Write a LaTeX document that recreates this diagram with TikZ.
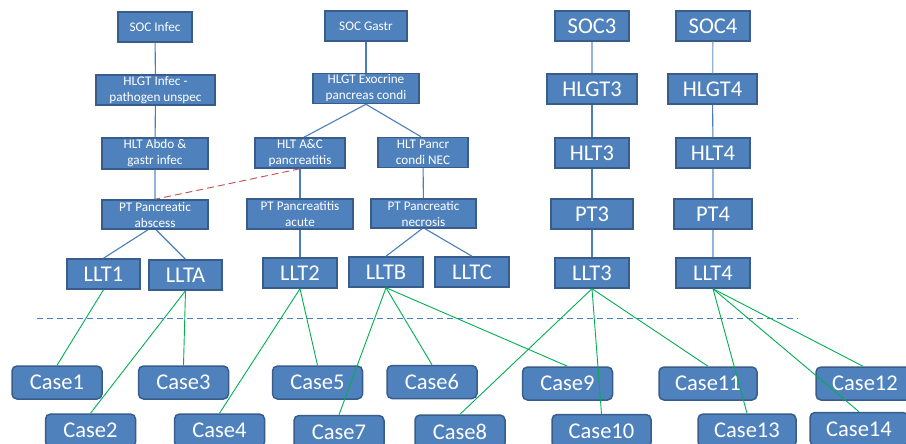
\documentclass[tikz,border=0pt]{standalone}
\usepackage{fontspec}
\setmainfont{Carlito}
\definecolor{boxfill}{HTML}{4F81BD}
\definecolor{boxedge}{HTML}{385D8A}
\definecolor{treeblue}{HTML}{4A7EBB}
\definecolor{lightblue}{HTML}{95B3D7}
\definecolor{casegreen}{HTML}{00B050}
\definecolor{dashred}{HTML}{C0504D}
\tikzset{
  box/.style={draw=boxedge, fill=boxfill, line width=1.5pt, text=white, inner sep=0pt, align=center,
    font=\fontsize{13.2}{16}\selectfont},
  bigbox/.style={box, font=\fontsize{22.5}{27}\selectfont, minimum width=74, minimum height=30},
  casebox/.style={bigbox, rounded corners=5pt, minimum width=90, minimum height=33},
  tree/.style={draw=treeblue, line width=1.1pt},
  treelight/.style={draw=lightblue, line width=1.3pt},
  link/.style={draw=casegreen, line width=0.9pt},
  sep/.style={draw=treeblue, line width=0.9pt, dash pattern=on 6pt off 4pt},
  reddash/.style={draw=dashred, line width=0.9pt, dash pattern=on 7pt off 4pt}
}
\begin{document}
\begin{tikzpicture}[x=1pt,y=-1pt]
\clip (0,0) rectangle (906,444);
\fill[white] (0,0) rectangle (906,444);
% SOC row
\node[box, minimum width=74, minimum height=30] (socinf) at (155,27) {SOC Infec};
\node[box, minimum width=82, minimum height=30] (socgas) at (366,26) {SOC Gastr};
\node[bigbox] (soc3) at (592,26) {SOC3};
\node[bigbox] (soc4) at (713,26) {SOC4};
% HLGT row
\node[box, minimum width=119, minimum height=30] (hlgtinf) at (155.5,90) {HLGT Infec -\\pathogen unspec};
\node[box, minimum width=106, minimum height=30] (hlgtexo) at (366,88.5) {HLGT Exocrine\\pancreas condi};
\node[bigbox, minimum width=90] (hlgt3) at (592,89) {HLGT3};
\node[bigbox, minimum width=89] (hlgt4) at (712.5,89) {HLGT4};
% HLT row
\node[box, minimum width=106, minimum height=31] (hltabdo) at (155,153.5) {HLT Abdo \&\\gastr infec};
\node[box, minimum width=90, minimum height=30] (hltac) at (300,153) {HLT A\&C\\pancreatitis};
\node[box, minimum width=90, minimum height=30] (hltpan) at (423,152.5) {HLT Pancr\\condi NEC};
\node[bigbox] (hlt3) at (592,153) {HLT3};
\node[bigbox] (hlt4) at (713,153) {HLT4};
% PT row
\node[box, minimum width=106, minimum height=29] (ptabs) at (155,214.5) {PT Pancreatic\\abscess};
\node[box, minimum width=106, minimum height=30] (ptacu) at (300,214) {PT Pancreatitis\\acute};
\node[box, minimum width=105, minimum height=29] (ptnec) at (423.5,213.5) {PT Pancreatic\\necrosis};
\node[bigbox, minimum width=82] (pt3) at (592,214) {PT3};
\node[bigbox, minimum width=78] (pt4) at (713,214) {PT4};
% LLT row
\node[bigbox, minimum width=73] (llt1) at (103.5,274) {LLT1};
\node[bigbox, minimum width=73] (llta) at (185.5,275) {LLTA};
\node[bigbox] (llt2) at (300,273) {LLT2};
\node[bigbox] (lltb) at (386,272) {LLTB};
\node[bigbox] (lltc) at (472,272) {LLTC};
\node[bigbox] (llt3) at (592,273) {LLT3};
\node[bigbox] (llt4) at (713,273) {LLT4};
% Tree connectors
\draw[tree] (socinf) -- (hlgtinf);
\draw[tree] (hlgtinf) -- (hltabdo);
\draw[treelight] (hltabdo) -- (ptabs);
\draw[tree] (socgas) -- (hlgtexo);
\draw[tree] (hlgtexo.south) -- ([xshift=4]hltac.north);
\draw[tree] (hlgtexo.south) -- ([xshift=-2]hltpan.north);
\draw[tree] (hltac) -- (ptacu);
\draw[tree] (hltpan) -- (ptnec);
\draw[treelight] (soc3) -- (hlgt3);
\draw[tree] (hlgt3) -- (hlt3);
\draw[tree] (hlt3) -- (pt3);
\draw[tree] (pt3) -- (llt3);
\draw[treelight] (soc4) -- (hlgt4);
\draw[tree] (hlgt4) -- (hlt4);
\draw[treelight] (hlt4) -- (pt4);
\draw[treelight] (pt4) -- (llt4);
\draw[tree] ([xshift=-7]ptabs.south) -- (llt1.north);
\draw[tree] ([xshift=1]ptabs.south) -- (llta.north);
\draw[tree] (ptacu) -- (llt2);
\draw[tree] ([xshift=-1.5]ptnec.south) -- (lltb.north);
\draw[tree] ([xshift=1.5]ptnec.south) -- (lltc.north);
\draw[reddash] (hltac.south) -- (ptabs.north);
% separator
\coordinate (dl) at (37,318);
\coordinate (dr) at (798,318);
\draw[sep] (dl) -- (dr);
% Cases
\node[casebox] (case1) at (57,382.5) {Case1};
\node[casebox] (case3) at (183.5,382.5) {Case3};
\node[casebox] (case5) at (317.5,382.5) {Case5};
\node[casebox] (case6) at (432,382) {Case6};
\node[casebox] (case9) at (567.5,383.5) {Case9};
\node[casebox, minimum width=98] (case11) at (708,383.5) {Case11};
\node[casebox, minimum width=98] (case12) at (865,383.5) {Case12};
\node[casebox] (case2) at (90.5,430.5) {Case2};
\node[casebox] (case4) at (219.5,430.5) {Case4};
\node[casebox] (case7) at (339,432) {Case7};
\node[casebox] (case8) at (460,431.5) {Case8};
\node[casebox, minimum width=99] (case10) at (601.5,431) {Case10};
\node[casebox, minimum width=98] (case13) at (747,430.5) {Case13};
\node[casebox, minimum width=98] (case14) at (859,429) {Case14};
% green links
\draw[link] (llt1.south) -- (case1.north);
\draw[link] (llta.south) -- (case3.north);
\draw[link] (llta.south) -- (case2.north);
\draw[link] (llt2.south) -- (case4.north);
\draw[link] (llt2.south) -- (case5.north);
\draw[link] (lltb.south) -- (case7.north);
\draw[link] (lltb.south) -- (case6.north);
\draw[link] (lltb.south) -- (case9.north);
\draw[link] (llt3.south) -- (case8.north);
\draw[link] (llt3.south) -- (case10.north);
\draw[link] (llt3.south) -- (case11.north);
\draw[link] (llt4.south) -- (case13.north);
\draw[link] (llt4.south) -- (case14.north);
\draw[link] (llt4.south) -- ([xshift=-2]case12.north);
\end{tikzpicture}
\end{document}
